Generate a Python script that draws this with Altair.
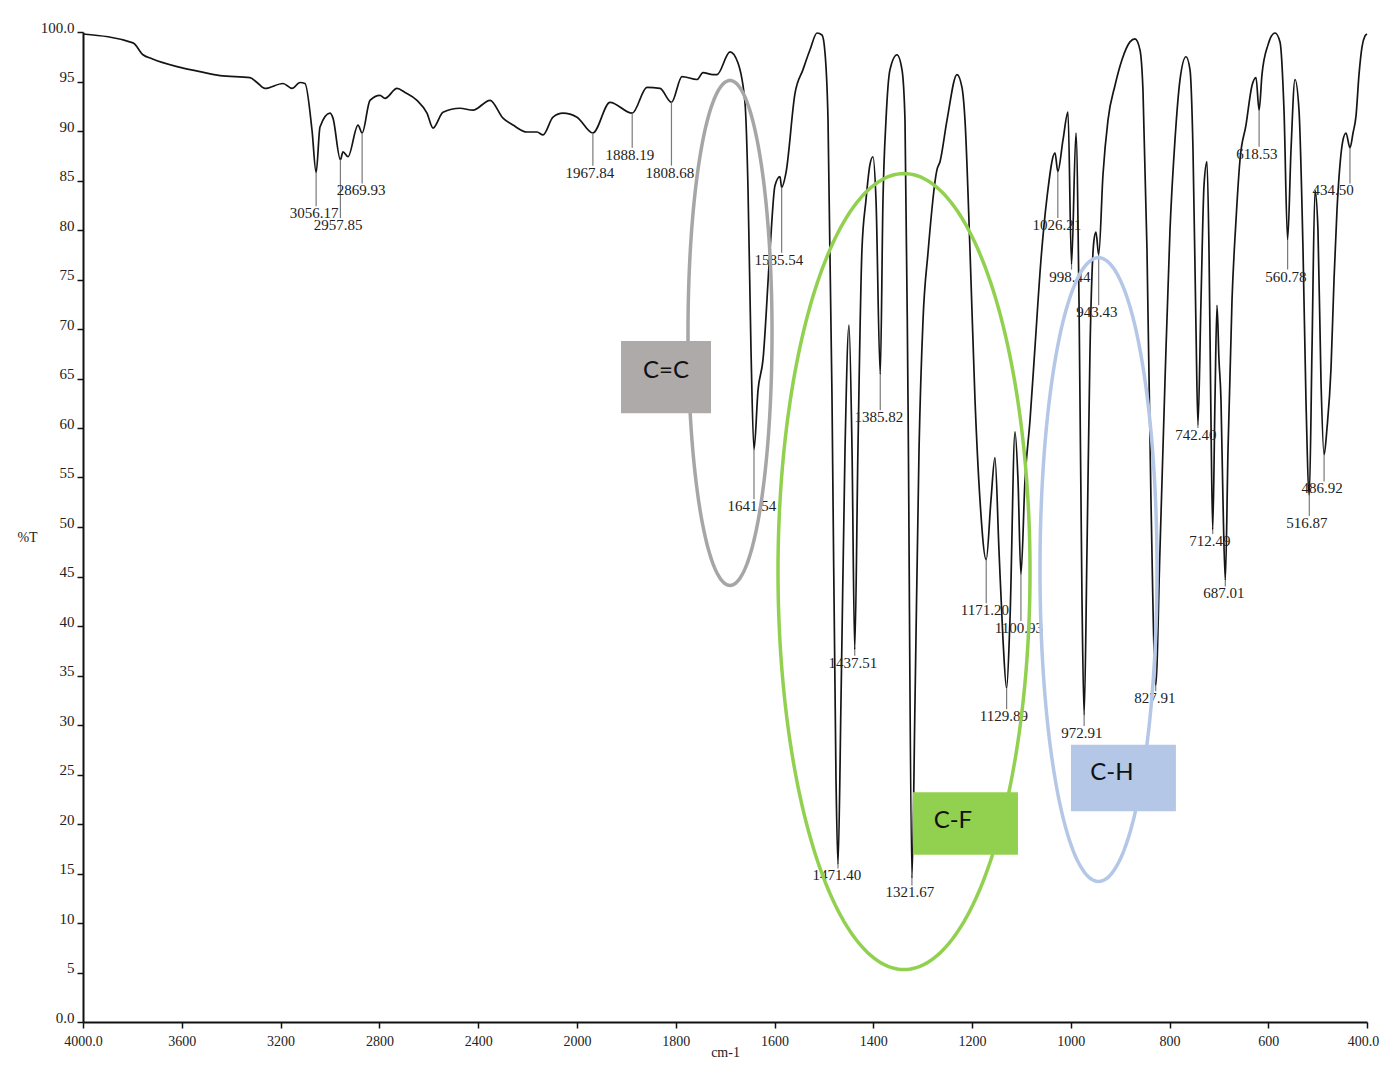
import altair as alt
import pandas as pd
import numpy as np

# ---------------- spectrum (wavenumber cm-1, %T) ----------------
wavenumber = [4000, 3797.6, 3757, 3720.6, 3619.4, 3526.3, 3445.3, 3323.9, 3295.5, 3263.2,
              3190.3, 3153.8, 3121.4, 3101.2, 3072.9, 3056.17, 3040.5, 3000, 2987.9, 2957.85,
              2947.4, 2927.1, 2886.6, 2869.93, 2838.1, 2797.6, 2777.3, 2728.7, 2696.4, 2647.8,
              2607.3, 2583.0, 2542.5, 2473.7, 2421.1, 2352.2, 2299.6, 2259.1, 2202.4, 2161.9,
              2137.6, 2097.1, 2056.7, 2000, 1967.84, 1933.2, 1888.19, 1858.2, 1831.9, 1808.68,
              1787.3, 1757.0, 1744.8, 1724.6, 1716.5, 1690.1, 1674.1, 1659.7, 1653.7, 1647.6,
              1641.54, 1633.4, 1623.3, 1609.1, 1599.0, 1588.9, 1585.54, 1576.7, 1558.5, 1542.3,
              1528.1, 1513.9, 1503.8, 1497.7, 1491.6, 1483.5, 1475.4, 1471.40, 1465.3, 1457.2,
              1449.1, 1443.0, 1437.51, 1431.0, 1422.9, 1414.8, 1406.7, 1400.6, 1394.4, 1385.82,
              1380.3, 1374.2, 1366.1, 1351.9, 1341.8, 1335.7, 1329.6, 1321.67, 1315.4, 1307.3,
              1299.2, 1289.1, 1270.9, 1264.8, 1250.6, 1230.4, 1220.3, 1214.2, 1204.1, 1193.9,
              1183.8, 1171.20, 1161.6, 1153.5, 1145.4, 1137.2, 1129.89, 1123.1, 1112.9, 1106.8,
              1100.93, 1092.7, 1082.5, 1072.4, 1060.3, 1048.1, 1031.9, 1026.21, 1015.7, 1005.6,
              998.44, 989.4, 983.3, 977.2, 972.91, 967.1, 961.0, 952.9, 948.9, 943.43,
              934.7, 924.6, 910.4, 896.2, 880.0, 869.9, 859.8, 853.7, 845.6, 837.5,
              827.91, 819.3, 809.1, 799.0, 788.9, 778.7, 766.6, 758.5, 752.4, 746.3,
              742.40, 736.2, 730.1, 724.1, 720.0, 716.0, 712.49, 707.9, 703.8, 699.8,
              695.7, 691.7, 687.01, 681.5, 673.4, 665.3, 657.2, 645.1, 632.9, 624.8,
              618.53, 612.7, 600.5, 586.3, 576.2, 568.1, 560.78, 553.9, 545.8, 537.7,
              529.6, 523.6, 516.87, 511.4, 505.3, 499.3, 493.2, 486.92, 481.0, 472.9,
              466.8, 460.8, 454.7, 448.6, 442.5, 434.50, 428.3, 422.3, 416.2, 410.1,
              404.0, 400]
transmittance = [99.8, 98.9, 97.7, 97.3, 96.5, 96.0, 95.6, 95.4, 94.9, 94.3,
                 94.8, 94.3, 94.9, 94.8, 90.1, 85.8, 90.4, 91.8, 91.3, 87.1,
                 87.9, 87.4, 90.6, 89.8, 93.1, 93.6, 93.3, 94.3, 93.9, 93.1,
                 91.8, 90.3, 91.9, 92.3, 92.1, 93.1, 91.3, 90.6, 89.9, 89.9,
                 89.6, 91.4, 91.8, 91.4, 89.8, 92.9, 91.8, 94.4, 94.3, 92.9,
                 95.5, 95.2, 95.9, 95.7, 95.7, 98.0, 96.9, 92.8, 84.3, 67.9,
                 57.8, 63.8, 66.9, 78.0, 84.5, 85.4, 84.3, 85.8, 93.8, 96.2,
                 98.2, 99.9, 99.7, 97.9, 91.1, 62.8, 24.4, 15.9, 32.5, 57.8,
                 70.4, 57.8, 37.6, 57.8, 78.0, 83.0, 86.6, 87.4, 83.0, 65.4,
                 83.0, 91.1, 96.2, 97.7, 96.2, 91.1, 62.8, 14.5, 32.5, 57.8,
                 70.9, 77.7, 86.1, 86.9, 91.1, 95.7, 94.4, 91.1, 78.0, 62.8,
                 52.7, 46.7, 52.7, 57.0, 47.7, 38.6, 33.7, 40.6, 59.6, 54.7,
                 45.2, 54.7, 60.8, 68.2, 77.0, 83.3, 87.8, 85.9, 89.1, 91.9,
                 76.5, 89.8, 72.9, 42.6, 31.0, 47.7, 67.9, 79.0, 79.8, 77.5,
                 85.6, 91.1, 94.6, 97.2, 99.0, 99.3, 98.2, 94.1, 78.0, 52.7,
                 34.0, 47.7, 64.8, 80.0, 89.1, 95.2, 97.5, 96.2, 88.1, 69.9,
                 60.3, 72.9, 84.5, 86.9, 78.0, 60.8, 49.7, 62.8, 72.4, 66.9,
                 62.8, 52.7, 44.6, 57.8, 72.9, 81.0, 87.1, 90.6, 94.6, 95.4,
                 92.1, 95.7, 98.7, 99.9, 99.0, 92.1, 79.0, 88.1, 95.2, 92.1,
                 78.0, 62.8, 53.2, 67.9, 84.0, 80.0, 64.8, 57.3, 60.0, 66.0,
                 75.0, 82.0, 86.6, 89.1, 89.8, 88.3, 89.8, 91.5, 95.7, 98.5,
                 99.6, 99.8]

# ---------------- peak annotations ----------------
peak_names = ["3056.17", "2957.85", "2869.93", "1967.84", "1888.19", "1808.68", "1585.54",
              "1641.54", "1471.40", "1437.51", "1385.82", "1321.67", "1171.20", "1100.93",
              "1129.89", "1026.21", "998.44", "943.43", "972.91", "827.91", "742.40",
              "712.49", "687.01", "618.53", "560.78", "516.87", "486.92", "434.50"]
peak_T = [85.8, 87.1, 89.8, 89.8, 91.8, 92.9, 84.3, 57.8, 15.9, 37.6, 65.4, 14.5, 46.7, 45.2,
          33.7, 85.9, 76.5, 77.5, 31.0, 34.0, 60.3, 49.7, 44.6, 92.1, 79.0, 53.2, 57.3, 88.3]
label_wn = [3064.7, 2967.5, 2874.4, 1973.7, 1892.7, 1811.7, 1590.9, 1645.6, 1473.5, 1441.1,
            1388.4, 1325.7, 1173.8, 1105.0, 1135.3, 1028.0, 1001.7, 947.0, 977.4, 829.6,
            746.5, 718.2, 689.8, 623.0, 564.3, 521.8, 491.0, 468.8]
label_T = [81.7, 80.5, 84.0, 85.8, 87.6, 85.8, 77.0, 52.1, 14.8, 36.3, 61.1, 13.1, 41.6, 39.8,
           30.9, 80.5, 75.3, 71.7, 29.2, 32.7, 59.3, 48.6, 43.3, 87.7, 75.3, 50.4, 53.9, 84.0]

# ---------------- functional-group highlights ----------------
group_names = ["C=C", "C-F", "C-H"]
group_center_wn = [1690.1, 1337.7, 943.8]
group_center_T = [69.6, 45.5, 45.7]
group_radius_wn = [85.1, 255.2, 118.5]
group_radius_T = [25.5, 40.2, 31.5]
group_line_color = ["#a6a6a6", "#92d050", "#b4c7e7"]
box_wn_left = [1910.9, 1319.6, 999.6]
box_wn_right = [1728.6, 1106.9, 787.0]
box_T_top = [68.8, 23.2, 28.0]
box_T_bottom = [61.5, 16.9, 21.3]
box_text_wn = [1819.8, 1238.6, 916.5]
box_text_T = [65.8, 20.3, 25.2]
box_fill = ["#aeaaaa", "#92d050", "#b4c7e7"]

x_ticks = [4000, 3600, 3200, 2800, 2400, 2000, 1800, 1600, 1400, 1200, 1000, 800, 600, 400]
y_ticks = list(range(0, 101, 5))

# ---------------- tables ----------------
spec = pd.DataFrame({"wn": wavenumber, "T": transmittance})
peaks = pd.DataFrame({
    "name": peak_names,
    "wn": [float(n) for n in peak_names],
    "T": peak_T,
    "T2": [t + 0.7 for t in label_T],
    "lx": label_wn,
    "ly": label_T,
})
rows = []
theta = np.linspace(0, 2 * np.pi, 241)
for g, cx, cy, rx, ry, col in zip(group_names, group_center_wn, group_center_T,
                                  group_radius_wn, group_radius_T, group_line_color):
    for i, t in enumerate(theta):
        rows.append({"g": g, "i": i, "wn": cx + rx * np.cos(t), "T": cy + ry * np.sin(t), "col": col})
ell = pd.DataFrame(rows)
boxes = pd.DataFrame({
    "g": group_names, "wn": box_wn_left, "wn2": box_wn_right,
    "T": box_T_top, "T2": box_T_bottom, "lx": box_text_wn, "ly": box_text_T, "fill": box_fill,
})

# ---------------- scales / axes ----------------
W, H = 1284, 990
x_scale = alt.Scale(domain=[400, 2000, 4000], range=[W, 494, 0], nice=False, zero=False)
y_scale = alt.Scale(domain=[0, 100], nice=False, zero=False)
serif = "Liberation Serif"

x_axis = alt.Axis(
    values=x_ticks,
    labelExpr="datum.value == 4000 ? '4000.0' : (datum.value == 400 ? '400.0' : format(datum.value, 'd'))",
    labelOffset={"condition": {"test": "datum.value == 400", "value": -4}, "value": 0},
    title="cm-1", titleX=W / 2, titleY=34, titleBaseline="alphabetic", titleAlign="center",
    titleFont=serif, titleFontSize=14, titleFontWeight="normal", titleColor="#222",
    labelFont=serif, labelFontSize=14, labelColor="#222", labelPadding=6,
    labelFlush=False, labelOverlap=False, grid=False,
    tickSize=6, tickColor="#111", tickWidth=1.5, domainColor="#111", domainWidth=2,
)
y_axis = alt.Axis(
    values=y_ticks,
    labelExpr="datum.value == 100 ? '100.0' : (datum.value == 0 ? '0.0' : format(datum.value, 'd'))",
    title="%T", titleAngle=0, titleX=-56, titleY=505, titleAlign="center", titleBaseline="middle",
    titleFont=serif, titleFontSize=14, titleFontWeight="normal", titleColor="#222",
    labelFont=serif, labelFontSize=15, labelColor="#222", labelPadding=3,
    labelBaseline="alphabetic", labelFlush=False, labelOverlap=False, grid=False,
    tickSize=6, tickColor="#111", tickWidth=1.5, domainColor="#111", domainWidth=2,
)


def X(field):
    return alt.X(field, type="quantitative", scale=x_scale, axis=x_axis)


def Y(field):
    return alt.Y(field, type="quantitative", scale=y_scale, axis=y_axis)


line = alt.Chart(spec).mark_line(color="#151515", strokeWidth=1.7, interpolate="monotone").encode(
    x=X("wn"), y=Y("T"))

markers = alt.Chart(peaks).mark_rule(color="#7a7a7a", strokeWidth=1.2).encode(
    x=X("wn"), y=Y("T"), y2="T2")

peak_text = alt.Chart(peaks).mark_text(font=serif, fontSize=15, color="#222", align="center",
                                       baseline="middle").encode(
    x=X("lx"), y=Y("ly"), text="name")

ellipses = alt.Chart(ell).mark_line(strokeWidth=3.5).encode(
    x=X("wn"), y=Y("T"), detail="g", order="i", color=alt.Color("col:N", scale=None))

rects = alt.Chart(boxes).mark_rect().encode(
    x=X("wn"), x2="wn2", y=Y("T"), y2="T2", color=alt.Color("fill:N", scale=None))

box_text = alt.Chart(boxes).mark_text(font="Lato", fontSize=24, color="#111", align="center",
                                      baseline="middle").encode(
    x=X("lx"), y=Y("ly"), text="g")

chart = alt.layer(line, markers, peak_text, ellipses, rects, box_text).properties(
    width=W, height=H,
    autosize=alt.AutoSizeParams(type="none"),
    padding={"left": 75, "top": 24, "right": 14, "bottom": 36},
    background="white",
).configure_view(stroke=None)

chart.save("out.html", embed_options={"renderer": "svg", "actions": False})
